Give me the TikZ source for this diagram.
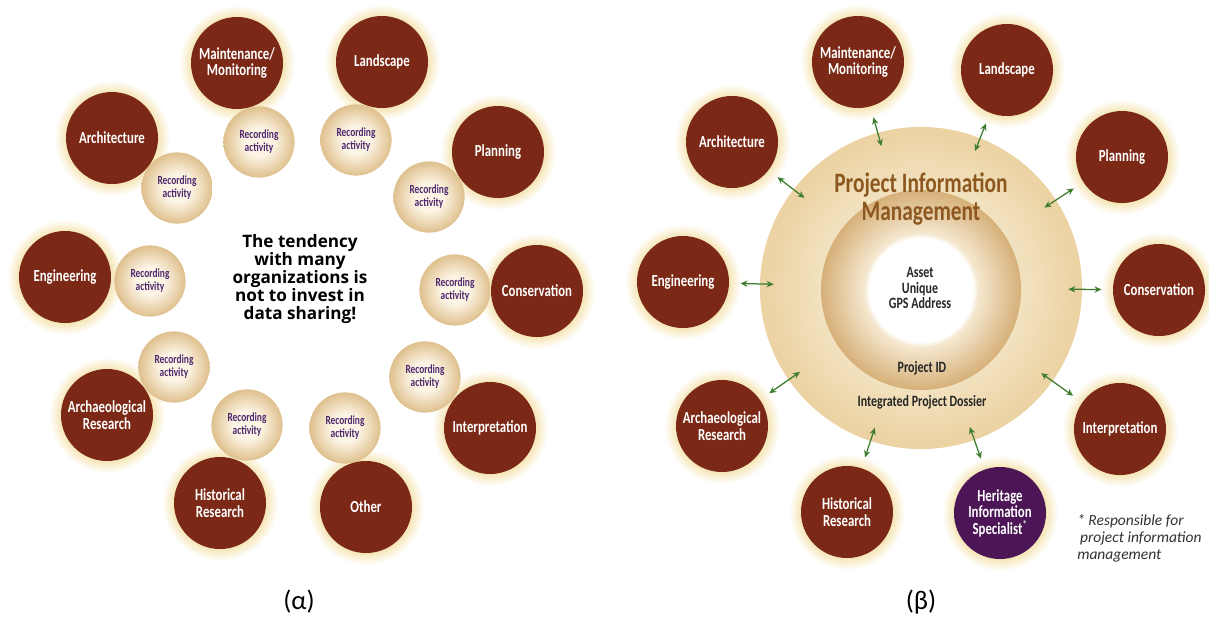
\documentclass[tikz,border=0pt]{standalone}
\usepackage{fontspec}
\setmainfont{Carlito}
\newfontfamily\narrowfont[FakeStretch=0.76]{Carlito}
\newfontfamily\headfont{Open Sans}
\usetikzlibrary{arrows.meta, backgrounds}

\definecolor{circred}{RGB}{123,41,22}
\definecolor{halocol}{RGB}{244,226,172}
\definecolor{recin}{RGB}{252,244,228}
\definecolor{recout}{RGB}{223,192,142}
\definecolor{recpurple}{RGB}{78,40,110}
\definecolor{ringlight}{RGB}{242,225,190}
\definecolor{ringedge}{RGB}{236,211,164}
\definecolor{corein}{RGB}{245,232,208}
\definecolor{coreout}{RGB}{214,176,120}
\definecolor{titlebrown}{RGB}{140,88,32}
\definecolor{heritpurple}{RGB}{76,22,86}
\definecolor{linkgreen}{RGB}{62,125,46}
\definecolor{notegrey}{RGB}{50,50,50}

% soft glow behind the discipline discs, shaded discs for the rest
\pgfdeclareradialshading{halo}{\pgfpoint{0bp}{0bp}}{color(0bp)=(halocol); color(19bp)=(halocol); color(25bp)=(white); color(50bp)=(white)}
\pgfdeclareradialshading{recshade}{\pgfpoint{0bp}{0bp}}{color(0bp)=(recin); color(10bp)=(recin); color(25bp)=(recout); color(50bp)=(recout)}
\pgfdeclareradialshading{ringshade}{\pgfpoint{0bp}{0bp}}{color(0bp)=(ringlight); color(16bp)=(ringlight); color(24bp)=(ringedge); color(25bp)=(ringedge); color(50bp)=(white)}
\pgfdeclareradialshading{coreshade}{\pgfpoint{0bp}{0bp}}{color(0bp)=(white); color(13bp)=(white); color(14.2bp)=(corein); color(25bp)=(coreout); color(50bp)=(coreout)}

\begin{document}
\begin{tikzpicture}[
          x=0.025cm, y=-0.025cm,
          topic/.style={
              circle,
              fill=circred,
              minimum size=2.3cm,
              inner sep=0pt,
              align=center,
              text=white,
              font=\narrowfont\bfseries\fontsize{12}{11.8}\selectfont
            },
          rec/.style={
              circle,
              shading=recshade,
              minimum size=1.78cm,
              inner sep=0pt,
              align=center,
              text=recpurple,
              font=\narrowfont\bfseries\fontsize{8.8}{9.4}\selectfont
            },
          corelabel/.style={
              align=center,
              text=black!85,
              font=\narrowfont\bfseries\fontsize{11.2}{10.9}\selectfont
            },
          link/.style={{Stealth[length=5pt,width=4.5pt]}-{Stealth[length=5pt,width=4.5pt]},
              linkgreen, line width=0.9pt, shorten <=0.28cm, shorten >=-0.35cm}
        ]
        \useasboundingbox (0,0) rectangle (1209,618);

        % (alpha): isolated disciplines
        \node[rec] (recMaint) at (259,142) {Recording\\activity};
        \node[rec] (recLand) at (356,140) {Recording\\activity};
        \node[rec] (recArch) at (177,188) {Recording\\activity};
        \node[rec] (recPlan) at (429,197) {Recording\\activity};
        \node[rec] (recEng) at (150,281) {Recording\\activity};
        \node[rec] (recCons) at (455,290) {Recording\\activity};
        \node[rec] (recArchaeo) at (174,367) {Recording\\activity};
        \node[rec] (recHist) at (247,425) {Recording\\activity};
        \node[rec] (recOther) at (345,428) {Recording\\activity};
        \node[rec] (recInterp) at (425,377) {Recording\\activity};

        \node[topic] (maintA) at (237,63) {Maintenance/\\Monitoring};
        \node[topic] (landA) at (382,62) {Landscape};
        \node[topic] (archA) at (112,138) {Architecture};
        \node[topic] (planA) at (498,152) {Planning};
        \node[topic] (engA) at (65,277) {Engineering};
        \node[topic] (consA) at (537,291) {Conservation};
        \node[topic] (archaeoA) at (107,415) {Archaeological\\Research};
        \node[topic] (histA) at (220,503) {Historical\\Research};
        \node[topic] (otherA) at (366,507) {Other};
        \node[topic] (interpA) at (490,428) {Interpretation};

        \node[align=center, font=\headfont\bfseries\fontsize{12.2}{12.8}\selectfont] (tendency) at (300,279)
          {The tendency\\with many\\organizations is\\not to invest in\\data sharing!};

        % (beta): shared project information
        \node[circle, shading=ringshade, minimum size=8.05cm, inner sep=0pt] (ring) at (921,288) {};
        \node[circle, shading=coreshade, minimum size=5cm, inner sep=0pt] (core) at (921,290) {};

        \node[align=center, text=titlebrown, font=\narrowfont\bfseries\fontsize{20}{20}\selectfont] (pimtitle) at (921,199)
          {Project Information\\Management};
        \node[corelabel] (asset) at (920,288) {Asset\\Unique\\GPS Address};
        \node[corelabel] (projid) at (922,368) {Project ID};
        \node[corelabel] (dossier) at (922,402) {Integrated Project Dossier};

        \node[topic] (maintB) at (858,62) {Maintenance/\\Monitoring};
        \node[topic] (landB) at (1007,70) {Landscape};
        \node[topic] (archB) at (732,142) {Architecture};
        \node[topic] (planB) at (1122,157) {Planning};
        \node[topic] (engB) at (683,282) {Engineering};
        \node[topic] (consB) at (1159,290) {Conservation};
        \node[topic] (archaeoB) at (722,426) {Archaeological\\Research};
        \node[topic] (histB) at (847,512) {Historical\\Research};
        \node[topic, fill=heritpurple] (heritB) at (1000,513)
          {Heritage\\Information\\Specialist\textsuperscript{\color{white!75!gray}*}};
        \node[topic] (interpB) at (1120,429) {Interpretation};

        \draw[link] (maintB) -- (ring);
        \draw[link] (landB) -- (ring);
        \draw[link] (archB) -- (ring);
        \draw[link] (planB) -- (ring);
        \draw[link] (engB) -- (ring);
        \draw[link] (consB) -- (ring);
        \draw[link] (archaeoB) -- (ring);
        \draw[link] (histB) -- (ring);
        \draw[link] (heritB) -- (ring);
        \draw[link] (interpB) -- (ring);

        \node[anchor=north west, align=left, inner sep=0pt, text=notegrey,
              font=\itshape\fontsize{11}{12}\selectfont] (note) at (1077,514)
          {* Responsible for\\\hspace*{2pt}project information\\management};

        \node[font=\fontsize{19}{20}\selectfont] (capA) at (299,602) {(α)};
        \node[font=\fontsize{19}{20}\selectfont] (capB) at (921,602) {(β)};

        \begin{scope}[on background layer]
          \fill[white] (0,0) rectangle (1209,618);
          \foreach \n in {maintA,landA,archA,planA,engA,consA,archaeoA,histA,otherA,interpA,
                          maintB,landB,archB,planB,engB,consB,archaeoB,histB,heritB,interpB}
            \shade[shading=halo] (\n.center) circle (1.45cm);
        \end{scope}
      \end{tikzpicture}
\end{document}
